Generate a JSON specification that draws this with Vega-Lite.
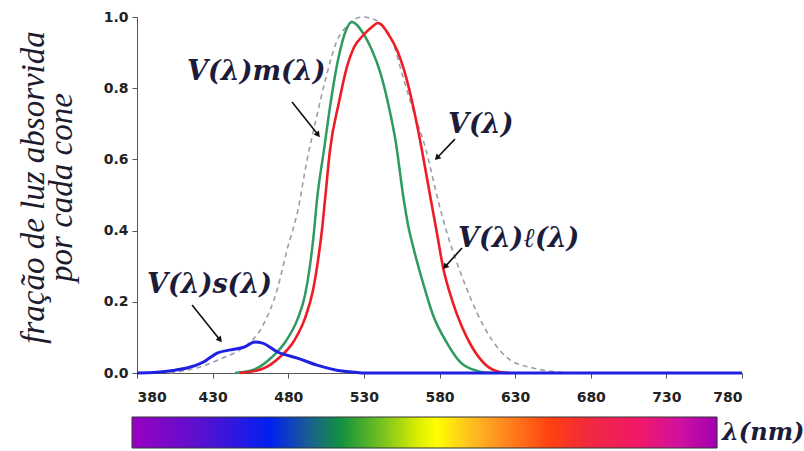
{
 "$schema": "https://vega.github.io/schema/vega-lite/v6.json",
 "padding": {"left": 17, "top": 10, "right": 0, "bottom": 0},
 "background": "white",
 "config": {"view": {"stroke": null}},
 "bounds": "flush",
 "spacing": 44,
 "datasets": {
  "curves": [
   {"series":"V","lambda":401.8,"value":0},{"series":"V","lambda":421.7,"value":0.017},{"series":"V","lambda":438.2,"value":0.045},{"series":"V","lambda":448.1,"value":0.065},{"series":"V","lambda":464,"value":0.14},{"series":"V","lambda":472.6,"value":0.233},{"series":"V","lambda":479.2,"value":0.346},{"series":"V","lambda":486.4,"value":0.458},{"series":"V","lambda":492.4,"value":0.598},{"series":"V","lambda":498.3,"value":0.711},{"series":"V","lambda":505,"value":0.831},{"series":"V","lambda":511.6,"value":0.927},{"series":"V","lambda":518.2,"value":0.972},{"series":"V","lambda":525.5,"value":0.997},{"series":"V","lambda":529.4,"value":1.0},{"series":"V","lambda":534,"value":0.997},{"series":"V","lambda":540.7,"value":0.983},{"series":"V","lambda":549.3,"value":0.927},{"series":"V","lambda":555.9,"value":0.831},{"series":"V","lambda":562.5,"value":0.739},{"series":"V","lambda":571.1,"value":0.626},{"series":"V","lambda":579,"value":0.486},{"series":"V","lambda":585,"value":0.393},{"series":"V","lambda":590.9,"value":0.317},{"series":"V","lambda":597.5,"value":0.242},{"series":"V","lambda":604.8,"value":0.169},{"series":"V","lambda":614.7,"value":0.093},{"series":"V","lambda":626.6,"value":0.037},{"series":"V","lambda":641.8,"value":0.014},{"series":"V","lambda":657.7,"value":0.003},{"series":"V","lambda":669.6,"value":0},
   {"series":"Vm","lambda":444.8,"value":0},{"series":"Vm","lambda":458,"value":0.011},{"series":"Vm","lambda":469.3,"value":0.045},{"series":"Vm","lambda":478.5,"value":0.09},{"series":"Vm","lambda":486.4,"value":0.154},{"series":"Vm","lambda":491.1,"value":0.219},{"series":"Vm","lambda":494.4,"value":0.303},{"series":"Vm","lambda":497.0,"value":0.396},{"series":"Vm","lambda":499.0,"value":0.486},{"series":"Vm","lambda":503.6,"value":0.626},{"series":"Vm","lambda":508.3,"value":0.767},{"series":"Vm","lambda":512.9,"value":0.879},{"series":"Vm","lambda":518.2,"value":0.963},{"series":"Vm","lambda":522.1,"value":0.986},{"series":"Vm","lambda":529.4,"value":0.955},{"series":"Vm","lambda":535.3,"value":0.907},{"series":"Vm","lambda":540.7,"value":0.846},{"series":"Vm","lambda":546.0,"value":0.758},{"series":"Vm","lambda":551.2,"value":0.646},{"series":"Vm","lambda":555.9,"value":0.5},{"series":"Vm","lambda":559.2,"value":0.416},{"series":"Vm","lambda":563.1,"value":0.346},{"series":"Vm","lambda":569.1,"value":0.253},{"series":"Vm","lambda":575.7,"value":0.163},{"series":"Vm","lambda":585.0,"value":0.084},{"series":"Vm","lambda":593.6,"value":0.031},{"series":"Vm","lambda":604.8,"value":0.006},{"series":"Vm","lambda":615.4,"value":0},
   {"series":"Vl","lambda":448.1,"value":0},{"series":"Vl","lambda":462.6,"value":0.011},{"series":"Vl","lambda":474.5,"value":0.045},{"series":"Vl","lambda":483.8,"value":0.09},{"series":"Vl","lambda":491.1,"value":0.154},{"series":"Vl","lambda":496.4,"value":0.233},{"series":"Vl","lambda":499.7,"value":0.317},{"series":"Vl","lambda":502.3,"value":0.402},{"series":"Vl","lambda":504.3,"value":0.486},{"series":"Vl","lambda":507.6,"value":0.626},{"series":"Vl","lambda":513.5,"value":0.76},{"series":"Vl","lambda":518.5,"value":0.855},{"series":"Vl","lambda":523.5,"value":0.915},{"series":"Vl","lambda":529.4,"value":0.948},{"series":"Vl","lambda":535.3,"value":0.972},{"series":"Vl","lambda":539.3,"value":0.983},{"series":"Vl","lambda":547.3,"value":0.944},{"series":"Vl","lambda":551.9,"value":0.907},{"series":"Vl","lambda":557.9,"value":0.831},{"series":"Vl","lambda":563.1,"value":0.739},{"series":"Vl","lambda":568.4,"value":0.626},{"series":"Vl","lambda":574.3,"value":0.486},{"series":"Vl","lambda":578.3,"value":0.393},{"series":"Vl","lambda":582.3,"value":0.298},{"series":"Vl","lambda":588.3,"value":0.205},{"series":"Vl","lambda":594.9,"value":0.129},{"series":"Vl","lambda":601.5,"value":0.073},{"series":"Vl","lambda":610.8,"value":0.022},{"series":"Vl","lambda":620.0,"value":0.003},{"series":"Vl","lambda":626.6,"value":0},
   {"series":"Vs","lambda":380,"value":0},{"series":"Vs","lambda":393,"value":0.002},{"series":"Vs","lambda":405,"value":0.008},{"series":"Vs","lambda":413,"value":0.014},{"series":"Vs","lambda":424,"value":0.031},{"series":"Vs","lambda":433,"value":0.056},{"series":"Vs","lambda":442,"value":0.065},{"series":"Vs","lambda":451,"value":0.073},{"series":"Vs","lambda":458,"value":0.087},{"series":"Vs","lambda":463,"value":0.084},{"series":"Vs","lambda":473,"value":0.059},{"series":"Vs","lambda":486,"value":0.042},{"series":"Vs","lambda":499,"value":0.022},{"series":"Vs","lambda":512,"value":0.008},{"series":"Vs","lambda":524,"value":0.002},{"series":"Vs","lambda":531,"value":0},{"series":"Vs","lambda":780,"value":0}
  ],
  "labels": [
   {"text":"V(λ)m(λ)","lambda":413.1,"value":0.846},
   {"text":"V(λ)","lambda":585.6,"value":0.697},
   {"text":"V(λ)ℓ(λ)","lambda":592.2,"value":0.376},
   {"text":"V(λ)s(λ)","lambda":386.6,"value":0.247}
  ],
  "arrows": [
   {"lambda":482.5,"value":0.761,"lambda2":499.7,"value2":0.669,"heading":142},
   {"lambda":590.2,"value":0.657,"lambda2":578.3,"value2":0.604,"heading":224},
   {"lambda":594.9,"value":0.351,"lambda2":583.6,"value2":0.298,"heading":222},
   {"lambda":416.4,"value":0.191,"lambda2":434.9,"value2":0.093,"heading":141}
  ],
  "bar": [{"start":376.7,"end":763.5}],
  "unit": [{"lambda":766.8,"text":"λ(nm)"}]
 },
 "vconcat": [
  {
   "width": 605,
   "height": 356,
   "layer": [
    {
     "data": {"name": "curves"},
     "transform": [{"filter": "datum.series === 'V'"}],
     "mark": {"type": "line", "color": "#9d9da8", "strokeWidth": 1.6, "strokeDash": [5, 4], "interpolate": "monotone"},
     "encoding": {
      "x": {"field": "lambda", "type": "quantitative", "scale": {"domain": [380, 780], "nice": false, "zero": false},
            "axis": {"title": null, "values": [380,430,480,530,580,630,680,730,780], "format": "d", "grid": false,
                     "labelFont": "DejaVu Sans", "labelFontWeight": "bold", "labelFontSize": 14, "labelColor": "#222",
                     "tickColor": "#555", "domainColor": "#555", "tickSize": 5, "labelPadding": 12}},
      "y": {"field": "value", "type": "quantitative", "scale": {"domain": [0, 1], "nice": false},
            "axis": {"title": ["fração de luz absorvida", "por cada cone"], "values": [0,0.2,0.4,0.6,0.8,1.0], "format": ".1f", "grid": false,
                     "labelFont": "DejaVu Sans", "labelFontWeight": "bold", "labelFontSize": 14, "labelColor": "#222",
                     "tickColor": "#555", "domainColor": "#555", "tickSize": 5, "labelPadding": 4,
                     "titleFont": "Liberation Serif", "titleFontStyle": "italic", "titleFontWeight": "normal", "titleFontSize": 33,
                     "titleLineHeight": 28, "titleColor": "#1c1c2e", "titlePadding": 25, "titleY": 170}}
     }
    },
    {
     "data": {"name": "curves"},
     "transform": [{"filter": "datum.series === 'Vm'"}],
     "mark": {"type": "line", "color": "#2f9a62", "strokeWidth": 2.5, "interpolate": "monotone"},
     "encoding": {"x": {"field": "lambda", "type": "quantitative"}, "y": {"field": "value", "type": "quantitative"}}
    },
    {
     "data": {"name": "curves"},
     "transform": [{"filter": "datum.series === 'Vl'"}],
     "mark": {"type": "line", "color": "#ee1c25", "strokeWidth": 2.6, "interpolate": "monotone"},
     "encoding": {"x": {"field": "lambda", "type": "quantitative"}, "y": {"field": "value", "type": "quantitative"}}
    },
    {
     "data": {"name": "curves"},
     "transform": [{"filter": "datum.series === 'Vs'"}],
     "mark": {"type": "line", "color": "#2020e0", "strokeWidth": 3, "interpolate": "monotone"},
     "encoding": {"x": {"field": "lambda", "type": "quantitative"}, "y": {"field": "value", "type": "quantitative"}}
    },
    {
     "data": {"name": "arrows"},
     "mark": {"type": "rule", "color": "#111", "strokeWidth": 1.6},
     "encoding": {"x": {"field": "lambda", "type": "quantitative"}, "y": {"field": "value", "type": "quantitative"},
                  "x2": {"field": "lambda2"}, "y2": {"field": "value2"}}
    },
    {
     "data": {"name": "arrows"},
     "mark": {"type": "point", "shape": "triangle-up", "filled": true, "color": "#111", "size": 45, "opacity": 1},
     "encoding": {"x": {"field": "lambda2", "type": "quantitative"}, "y": {"field": "value2", "type": "quantitative"},
                  "angle": {"field": "heading", "type": "quantitative", "scale": null}}
    },
    {
     "data": {"name": "labels"},
     "mark": {"type": "text", "align": "left", "baseline": "middle", "font": "DejaVu Serif", "fontStyle": "italic", "fontWeight": "bold", "fontSize": 27, "color": "#1c1c3a"},
     "encoding": {"x": {"field": "lambda", "type": "quantitative"}, "y": {"field": "value", "type": "quantitative"}, "text": {"field": "text"}}
    }
   ]
  },
  {
   "width": 605,
   "height": 31,
   "layer": [
    {
     "data": {"name": "bar"},
     "mark": {"type": "rect", "stroke": "#333", "strokeWidth": 1,
              "fill": {"gradient": "linear", "x1": 0, "y1": 0, "x2": 1, "y2": 0, "stops": [
                {"offset": 0, "color": "#9a00c0"},
                {"offset": 0.116, "color": "#5a10d0"},
                {"offset": 0.236, "color": "#0020f0"},
                {"offset": 0.304, "color": "#1a6090"},
                {"offset": 0.356, "color": "#109040"},
                {"offset": 0.424, "color": "#70c020"},
                {"offset": 0.492, "color": "#e0f000"},
                {"offset": 0.521, "color": "#ffff00"},
                {"offset": 0.578, "color": "#ffc020"},
                {"offset": 0.629, "color": "#ff9020"},
                {"offset": 0.715, "color": "#ff4010"},
                {"offset": 0.783, "color": "#f02840"},
                {"offset": 0.868, "color": "#f01868"},
                {"offset": 0.937, "color": "#d010a0"},
                {"offset": 1, "color": "#a000b0"}]}},
     "encoding": {"x": {"field": "start", "type": "quantitative", "scale": {"domain": [380, 780], "nice": false, "zero": false}, "axis": null},
                  "x2": {"field": "end"}}
    },
    {
     "data": {"name": "unit"},
     "mark": {"type": "text", "align": "left", "baseline": "middle", "font": "DejaVu Serif", "fontStyle": "italic", "fontWeight": "bold", "fontSize": 24, "color": "#1c1c3a"},
     "encoding": {"x": {"field": "lambda", "type": "quantitative"}, "text": {"field": "text"}}
    }
   ]
  }
 ]
}
